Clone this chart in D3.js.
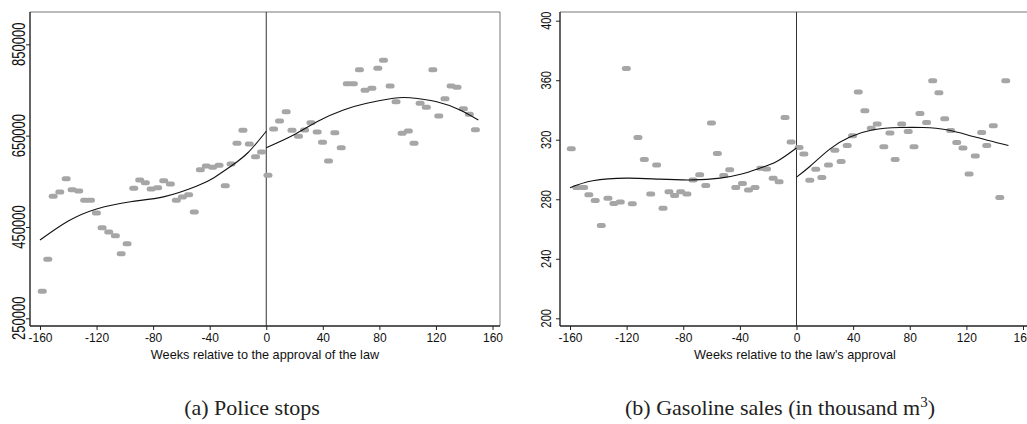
<!DOCTYPE html>
<html>
<head>
<meta charset="utf-8">
<script src="https://cdn.jsdelivr.net/npm/d3@7/dist/d3.min.js"></script>
<style>
  body { margin: 0; background: #fff; }
  svg { display: block; }
</style>
</head>
<body>
<script>
/*
 * two event-study scatter plots with separate polynomial fits before and after week 0
 */

// ---- data ----
var xTicks = [-160, -120, -80, -40, 0, 40, 80, 120, 160];

// (a) police stops
var policeWeeks = [-158.4, -154.5, -150.7, -146, -141.5, -137.3, -132.6, -128.4, -124.3, -120.1,
    -116.1, -111.4, -106.7, -102.6, -98.4, -93.7, -89.5, -85.5, -81.4, -76.8,
    -72.5, -67.8, -63.6, -59.3, -54.9, -50.9, -46.6, -42.4, -37.9, -33.4,
    -29, -24.9, -20.7, -16.5, -12, -7.6, -3.3,
    1.2, 5.2, 9.4, 14.1, 18.2, 22.8, 27.1, 31.6, 36, 39.8,
    44, 48.5, 53, 57.3, 61.6, 65.9, 69.9, 74.7, 78.9, 82.9,
    87.6, 91.8, 96.1, 100.5, 104.5, 108.8, 113.2, 117.8, 122, 126.4,
    130.7, 134.9, 139.4, 143.6, 147.9];
var policeStops = [309000, 379200, 517200, 526600, 555700, 531600, 528800, 508400, 508400, 480600,
    448400, 439000, 430900, 391500, 413400, 534700, 552900, 546900, 533100, 536000,
    551300, 544100, 508400, 515600, 520700, 482800, 575400, 583500, 580700, 585000,
    540400, 587900, 633200, 661700, 631700, 603900, 614200,
    563100, 664500, 682100, 702400, 661700, 648500, 662300, 678300, 658000, 635400,
    594500, 656400, 623600, 763700, 763700, 794400, 749300, 753700, 797500, 815000,
    758700, 724300, 655100, 660100, 633200, 720800, 712100, 794400, 693000, 730900,
    758700, 755800, 709000, 696700, 663000];
var policeFitPreWeeks = [-160, -140, -120, -96, -72, -49, -37, -25, -13, 0];
var policeFitPre = [421500, 463000, 489500, 505300, 516500, 539700, 557900, 583000, 612500, 659700];
var policeFitPostWeeks = [0, 19.3, 36.9, 54.6, 71.1, 89.9, 101.7, 120.6, 137, 150];
var policeFitPost = [623600, 651400, 682100, 706100, 720800, 731800, 733000, 724300, 706100, 684200];
var policeYTicks = [250000, 450000, 650000, 850000];

// (b) gasoline sales
var gasWeeks = [-159.1, -155.2, -150.4, -146.7, -142.2, -137.9, -133.2, -129, -124.5, -120.2,
    -116, -112, -107.5, -103, -98.8, -94.3, -90.1, -86.1, -81.8, -77.4,
    -73.1, -68.4, -64.1, -60.1, -55.9, -51.4, -47.2, -42.9, -38.2, -33.9,
    -29.3, -25.2, -21.2, -16.5, -12.3, -8.1, -3.8,
    1.8, 5.2, 9.4, 13.6, 17.9, 22.6, 27.1, 31.5, 35.8, 39.6,
    43.6, 48.3, 52.8, 57, 61.7, 66, 69.7, 74.3, 78.9, 83,
    87.2, 91.9, 96.2, 100.6, 104.7, 108.9, 113.2, 117.6, 121.9, 126.3,
    130.8, 134.4, 139, 143.6, 147.8];
var gasSales = [313.9, 287.9, 287.9, 283, 279.1, 262.3, 280.7, 277.1, 278.2, 367.9,
    276.9, 321.5, 306.7, 283.6, 303.1, 274, 285, 282.5, 285, 283.6,
    293, 296.4, 289.2, 331.2, 310.7, 295.9, 299.8, 287.9, 290.6, 286.3,
    287.9, 300.9, 300.4, 294.2, 291.7, 335, 318.4,
    314.8, 310.5, 292.8, 300.2, 294.6, 303.1, 313, 305.4, 316.1, 322.7,
    352.1, 339.5, 327.8, 330.5, 315.3, 324.5, 306.7, 330.5, 325.5, 315.3,
    337.7, 331.6, 359.7, 351.6, 334.1, 326.2, 318.1, 314.4, 296.9, 309,
    324.9, 316.1, 329.4, 281.1, 359.7];
var gasFitPreWeeks = [-160, -144, -120, -97, -73, -54, -38, -26, -14, 0];
var gasFitPre = [287.7, 292.4, 294.2, 293.5, 293, 294.2, 297.1, 300.9, 305.4, 314.5];
var gasFitPostWeeks = [0, 9.4, 23.5, 37.7, 54.2, 73.1, 89.5, 106.1, 124.9, 149.7];
var gasFitPost = [294.9, 302, 313.7, 321.8, 326.7, 328.2, 328.2, 326.7, 322.2, 316.1];
var gasYTicks = [200, 240, 280, 320, 360, 400];

var width = 1027, height = 424;
var sans = "'Liberation Sans', Arial, Helvetica, sans-serif";
var serif = "'Liberation Serif', 'Times New Roman', serif";

var svg = d3.select("body").append("svg")
    .attr("width", width)
    .attr("height", height);

svg.append("rect").attr("width", width).attr("height", height).attr("fill", "#fff");

function zip(a, b) {
    return a.map(function(d, i) { return [d, b[i]]; });
}

function drawPanel(p) {
    var x = d3.scaleLinear().domain([-160, 160]).range(p.xRange);
    var y = d3.scaleLinear().domain(p.yDomain).range(p.yRange);
    var g = svg.append("g");

    // frame: top and right borders are lighter
    g.append("line").attr("x1", p.left).attr("x2", p.right).attr("y1", p.top).attr("y2", p.top)
        .attr("stroke", "#777").attr("stroke-width", 1);
    if (p.rightBorder) {
        g.append("line").attr("x1", p.right).attr("x2", p.right).attr("y1", p.top).attr("y2", p.bottom)
            .attr("stroke", "#777").attr("stroke-width", 1);
    }

    // x axis
    var xAxis = g.append("g")
        .attr("transform", "translate(0," + p.bottom + ")")
        .call(d3.axisBottom(x).tickValues(xTicks).tickSize(4).tickPadding(3).tickFormat(d3.format("d")));
    xAxis.select(".domain").remove();
    g.append("line").attr("x1", p.left).attr("x2", p.right).attr("y1", p.bottom).attr("y2", p.bottom)
        .attr("stroke", "#222").attr("stroke-width", 1.4);
    xAxis.selectAll(".tick line").attr("stroke", "#222");
    xAxis.selectAll("text")
        .attr("font-family", sans).attr("font-size", 12).attr("fill", "#111")
        .text(function(d) { return d < 0 ? "-" + (-d) : d; });

    // y axis, labels rotated
    var yAxis = g.append("g")
        .attr("transform", "translate(" + p.left + ",0)")
        .call(d3.axisLeft(y).tickValues(p.yTicks).tickSize(4).tickFormat(d3.format("d")));
    yAxis.select(".domain").remove();
    yAxis.selectAll(".tick line").attr("stroke", "#222");
    yAxis.selectAll("text").remove();
    g.append("line").attr("x1", p.left).attr("x2", p.left).attr("y1", p.top).attr("y2", p.bottom)
        .attr("stroke", "#222").attr("stroke-width", 1.4);
    g.selectAll("text.ylab")
        .data(p.yTicks)
        .enter().append("text")
        .attr("class", "ylab")
        .attr("transform", function(d) {
            return "translate(" + p.yLabelX + "," + y(d) + ") scale(" + p.yLabelStretch + ",1) rotate(-90)";
        })
        .attr("text-anchor", "middle")
        .attr("font-family", sans).attr("font-size", p.yLabelSize).attr("fill", "#111")
        .text(function(d) { return d; });

    // axis title
    g.append("text")
        .attr("x", (p.left + p.right) / 2).attr("y", 359)
        .attr("text-anchor", "middle")
        .attr("font-family", sans).attr("font-size", 12.7).attr("fill", "#111")
        .text(p.xTitle);

    // event line at week 0
    g.append("line").attr("x1", x(0)).attr("x2", x(0)).attr("y1", p.top).attr("y2", p.bottom)
        .attr("stroke", "#333").attr("stroke-width", 1);

    // scatter
    g.selectAll("rect.pt")
        .data(zip(p.weeks, p.values))
        .enter().append("rect")
        .attr("class", "pt")
        .attr("x", function(d) { return x(d[0]) - 4.5; })
        .attr("y", function(d) { return y(d[1]) - 2.5; })
        .attr("width", 9).attr("height", 5)
        .attr("rx", 2.5).attr("ry", 2.5)
        .attr("fill", "#a6a6a6");

    // fitted curves
    var line = d3.line()
        .x(function(d) { return x(d[0]); })
        .y(function(d) { return y(d[1]); })
        .curve(d3.curveNatural);
    [p.fitPre, p.fitPost].forEach(function(f) {
        g.append("path")
            .attr("d", line(f))
            .attr("fill", "none")
            .attr("stroke", "#111")
            .attr("stroke-width", 1.1);
    });

    // caption
    var cap = svg.append("text")
        .attr("x", p.captionX).attr("y", 415)
        .attr("text-anchor", "middle")
        .attr("font-family", serif).attr("font-size", 22).attr("fill", "#222");
    cap.append("tspan").text(p.caption);
    if (p.captionSup) {
        cap.append("tspan").attr("dy", -8).attr("font-size", 15).text(p.captionSup);
        cap.append("tspan").attr("dy", 8).text(p.captionEnd);
    }
}

drawPanel({
    left: 30, right: 500, top: 12, bottom: 326, rightBorder: true,
    xRange: [40, 492.5],
    yDomain: [250000, 850000], yRange: [318.3, 44.3], yTicks: policeYTicks,
    yLabelX: 25, yLabelSize: 13, yLabelStretch: 1.4,
    weeks: policeWeeks, values: policeStops,
    fitPre: zip(policeFitPreWeeks, policeFitPre),
    fitPost: zip(policeFitPostWeeks, policeFitPost),
    xTitle: "Weeks relative to the approval of the law",
    caption: "(a)  Police stops", captionX: 252
});

drawPanel({
    left: 560, right: 1030, top: 12, bottom: 326, rightBorder: false,
    xRange: [570, 1023],
    yDomain: [200, 400], yRange: [318.3, 20.7], yTicks: gasYTicks,
    yLabelX: 550.7, yLabelSize: 11, yLabelStretch: 1.35,
    weeks: gasWeeks, values: gasSales,
    fitPre: zip(gasFitPreWeeks, gasFitPre),
    fitPost: zip(gasFitPostWeeks, gasFitPost),
    xTitle: "Weeks relative to the law's approval",
    caption: "(b)  Gasoline sales (in thousand m", captionSup: "3", captionEnd: ")",
    captionX: 780
});
</script>
</body>
</html>
